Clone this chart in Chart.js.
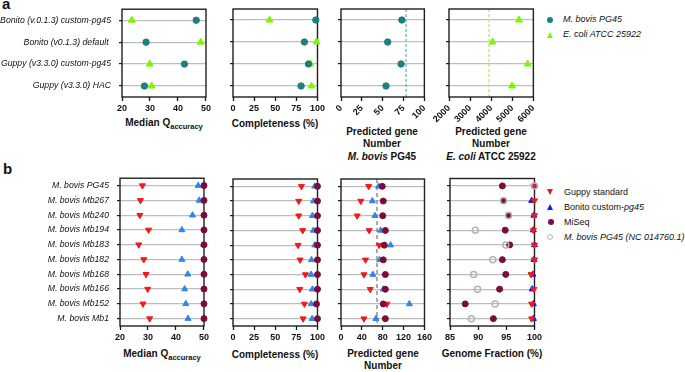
<!DOCTYPE html>
<html>
<head>
<meta charset="utf-8">
<script src="https://cdn.jsdelivr.net/npm/chart.js@4.4.0/dist/chart.umd.min.js"></script>
<style>
body { margin:0; width:685px; height:372px; background:#fff; position:relative; overflow:hidden;
       font-family:'Liberation Sans', Arial, sans-serif; color:#111; }
.t { position:absolute; font-weight:bold; font-size:10px; line-height:12.5px; text-align:center; white-space:nowrap; }
.t sub { font-size:7.5px; line-height:0; vertical-align:-3px; }
.letter { position:absolute; font-weight:bold; font-size:15px; line-height:15px; }
.leg { position:absolute; font-size:9px; line-height:11px; white-space:nowrap; }
.mk { position:absolute; }
</style>
</head>
<body>

<div class="letter" style="left:2px;top:-4px">a</div>
<div class="letter" style="left:3px;top:161px">b</div>

<!-- axis titles, panel a -->
<div class="t" style="left:104px;top:117px;width:120px">Median Q<sub>accuracy</sub></div>
<div class="t" style="left:215px;top:118px;width:120px">Completeness (%)</div>
<div class="t" style="left:322px;top:125.5px;width:120px">Predicted gene<br>Number<br><i>M. bovis</i> PG45</div>
<div class="t" style="left:431px;top:125.5px;width:120px">Predicted gene<br>Number<br><i>E. coli</i> ATCC 25922</div>

<!-- axis titles, panel b -->
<div class="t" style="left:102px;top:348px;width:120px">Median Q<sub>accuracy</sub></div>
<div class="t" style="left:215px;top:349px;width:120px">Completeness (%)</div>
<div class="t" style="left:323px;top:347.7px;width:120px">Predicted gene<br>Number</div>
<div class="t" style="left:432px;top:348px;width:120px">Genome Fraction (%)</div>

<div id="legA"></div>
<div id="legB"></div>

<script>
// ---------- panel a data ----------
const aRows = ['Bonito (v.0.1.3) custom-pg45', 'Bonito (v0.1.3) default ', 'Guppy (v3.3.0) custom-pg45', 'Guppy (v3.3.0) HAC'];
const aBovisQ = [46.5, 28.6, 42.3, 28.0];
const aColiQ = [23.5, 48.1, 29.9, 30.6];
const aBovisComp = [98.0, 84.5, 89.3, 80.6];
const aColiComp = [43.2, 98.8, 91.7, 92.9];
const aBovisGenes = [73, 56, 72, 54];
const aColiGenes = [5320, 4060, 5730, 4990];
const aBovisRef = 78;
const aColiRef = 3900;

// ---------- panel b data ----------
const bRows = ['M. bovis PG45', 'M. bovis Mb267', 'M. bovis Mb240', 'M. bovis Mb194', 'M. bovis Mb183',
               'M. bovis Mb182', 'M. bovis Mb168', 'M. bovis Mb166', 'M. bovis Mb152', 'M. bovis Mb1'];
const bGuppyQ  = [28.0, 27.3, 27.1, 30.2, 26.7, 28.5, 29.3, 29.9, 28.2, 30.6];
const bBonitoQ = [47.9, 48.3, 45.9, 42.1, 49.9, 42.1, 44.2, 43.1, 43.5, 44.3];
const bMiseqQ  = [50, 50, 50, 50, 50, 50, 50, 50, 50, 50];
const bGuppyComp  = [81.0, 77.8, 77.8, 82.5, 77.0, 79.4, 85.7, 79.0, 84.5, 83.0];
const bBonitoComp = [96.8, 95.2, 94.0, 95.2, 96.8, 92.9, 92.5, 94.0, 92.5, 93.7];
const bMiseqComp  = [100, 100, 100, 100, 100, 100, 100, 100, 98.8, 100];
const bGuppyGenes  = [53, 38, 31, 54, 73, 47, 44, 56, 88, 44];
const bBonitoGenes = [72, 60, 65, 76, 95, 74, 61, 81, 131, 67];
const bMiseqGenes  = [79, 81, 80, 85, 83, 81, 85, 85, 81, 85];
const bGeneRef = 69;
const bGuppyGF  = [99.9, 100, 100, 99.8, 100, 100, 99.4, 99.9, 99.5, 99.5];
const bBonitoGF = [100, 99.5, 99.9, 99.8, 100, 99.9, 99.7, 99.6, 99.8, 99.8];
const bMiseqGF  = [94.3, 94.5, 95.4, 94.8, 95.6, 94.3, 94.9, 93.8, 87.7, 92.7];
const bRefGF    = [100, 94.5, 95.4, 89.5, 94.9, 92.6, 89.2, 89.9, 93.0, 88.8];

// colours
const TEAL = '#1f7f80', LIME = '#7df700', RED = '#f01a1a', SKY = '#2f86e6', BLUE = '#1717f0',
      MAROON = '#7b0b3c', GREY = '#b4b4b4';

Chart.defaults.font.family = "'Liberation Sans', Arial, sans-serif";
Chart.defaults.color = '#111';

// points only, no line
function pts(data, style, color, r, order, extra) {
  return Object.assign({
    data: data.slice(), showLine: false, clip: false, order: order,
    pointStyle: style, pointRadius: r, pointBackgroundColor: color, pointBorderColor: color,
    pointBorderWidth: 1, borderColor: color, backgroundColor: color
  }, extra || {});
}
const down = {pointRotation: 180};
const ring = {pointBackgroundColor: 'rgba(0,0,0,0)', pointBorderColor: GREY, pointBorderWidth: 1.5};

// box round the plot + optional dashed reference line
function framePlugin(ref, color, dash) {
  return {
    id: 'frame',
    beforeDatasetsDraw(chart) {
      const ctx = chart.ctx, a = chart.chartArea;
      ctx.save();
      if (ref != null) {
        const x = chart.scales.x.getPixelForValue(ref);
        ctx.strokeStyle = color; ctx.lineWidth = 1.5; ctx.setLineDash(dash);
        ctx.beginPath(); ctx.moveTo(x, a.top); ctx.lineTo(x, a.bottom); ctx.stroke();
        ctx.setLineDash([]);
      }
      ctx.strokeStyle = '#1f1f1f'; ctx.lineWidth = 1.4;
      ctx.strokeRect(a.left, a.top, a.right - a.left, a.bottom - a.top);
      ctx.restore();
    }
  };
}

// makes one dot panel; canvas is moved until the plot area sits on box
function panel(box, rows, sets, ax, yw) {
  const cfg = () => ({
    type: 'line',
    data: {labels: rows, datasets: sets()},
    options: {
      indexAxis: 'y', responsive: false, maintainAspectRatio: false, animation: false, events: [],
      plugins: {legend: {display: false}, tooltip: {enabled: false}},
      scales: {
        x: {
          type: 'linear', position: 'bottom', min: ax.min, max: ax.max,
          border: {display: false},
          grid: {drawOnChartArea: false, drawTicks: true, tickLength: 4, tickColor: '#1a1a1a', tickWidth: 1.3},
          ticks: {stepSize: ax.step, autoSkip: false, minRotation: ax.rot || 0, maxRotation: ax.rot || 0,
                  padding: 2, color: '#111', font: {size: 9, weight: 'bold'},
                  callback: v => String(v)},
          afterFit: s => { s.height = ax.rot ? 30 : 16; }
        },
        y: {
          type: 'category', position: 'left', offset: true,
          border: {display: false},
          grid: {offset: false, color: '#bdbdbd', lineWidth: 1.2, drawTicks: true, tickLength: 3,
                 tickColor: '#1a1a1a', tickWidth: 1.2},
          ticks: {display: yw > 40, padding: 8, color: '#111', font: {size: 8.7, style: 'italic'}},
          afterFit: s => { s.width = yw; }
        }
      }
    },
    plugins: [framePlugin(ax.ref, ax.refColor, ax.refDash || [3, 2])]
  });

  let pad = {l: yw, t: 10, r: 10, b: 30};
  let chart;
  for (let k = 0; k < 4; k++) {
    const left = Math.round(box.x - pad.l), top = Math.round(box.y - pad.t);
    const w = Math.round(box.x + box.w + pad.r) - left, h = Math.round(box.y + box.h + pad.b) - top;
    const cv = document.createElement('canvas');
    cv.width = w; cv.height = h;
    cv.style.cssText = 'position:absolute;left:' + left + 'px;top:' + top + 'px;width:' + w + 'px;height:' + h + 'px';
    document.body.appendChild(cv);
    chart = new Chart(cv, cfg());
    const a = chart.chartArea;
    const np = {l: a.left, t: a.top, r: w - a.right, b: h - a.bottom};
    const off = Math.abs(left + a.left - box.x) + Math.abs(top + a.top - box.y) +
                Math.abs(a.right - a.left - box.w) + Math.abs(a.bottom - a.top - box.h);
    if (off < 2) break;
    chart.destroy(); cv.remove();
    pad = np;
  }
  return chart;
}

const A = [122, 233, 340.7, 449.3].map(x => ({x: x, y: 9.3, w: 84, h: 87.4}));
const B = [120.3, 233.2, 340.7, 450].map(x => ({x: x, y: 178.5, w: 84, h: 147}));

// ---- panel a ----
panel(A[0], aRows, () => [pts(aBovisQ, 'circle', TEAL, 3.2, 0), pts(aColiQ, 'triangle', LIME, 4, 1)],
      {min: 20, max: 50, step: 10}, 124);
panel(A[1], aRows, () => [pts(aBovisComp, 'circle', TEAL, 3.2, 0), pts(aColiComp, 'triangle', LIME, 4, 1)],
      {min: 0, max: 100, step: 25}, 30);
panel(A[2], aRows, () => [pts(aBovisGenes, 'circle', TEAL, 3.2, 0)],
      {min: 0, max: 100, step: 25, rot: 45, ref: aBovisRef, refColor: '#7cc4c4'}, 30);
panel(A[3], aRows, () => [pts(aColiGenes, 'triangle', LIME, 4, 1)],
      {min: 2000, max: 6000, step: 1000, rot: 45, ref: aColiRef, refColor: '#b6f27a'}, 30);

// ---- panel b ----
panel(B[0], bRows, () => [pts(bMiseqQ, 'circle', MAROON, 3, 1), pts(bGuppyQ, 'triangle', RED, 3.5, 2, down),
                          pts(bBonitoQ, 'triangle', SKY, 3.5, 3)],
      {min: 20, max: 50, step: 10}, 122);
panel(B[1], bRows, () => [pts(bMiseqComp, 'circle', MAROON, 3, 1), pts(bGuppyComp, 'triangle', RED, 3.5, 2, down),
                          pts(bBonitoComp, 'triangle', SKY, 3.5, 3)],
      {min: 0, max: 100, step: 25}, 30);
panel(B[2], bRows, () => [pts(bMiseqGenes, 'circle', MAROON, 3, 1), pts(bGuppyGenes, 'triangle', RED, 3.5, 2, down),
                          pts(bBonitoGenes, 'triangle', SKY, 3.5, 3)],
      {min: 0, max: 160, step: 40, ref: bGeneRef, refColor: '#8f8f8f', refDash: [4, 3]}, 30);
panel(B[3], bRows, () => [pts(bRefGF, 'circle', GREY, 3, 0, ring), pts(bMiseqGF, 'circle', MAROON, 3, 1),
                          pts(bGuppyGF, 'triangle', RED, 3.5, 2, down), pts(bBonitoGF, 'triangle', BLUE, 3.5, 3)],
      {min: 85, max: 100, step: 5}, 30);

// ---- legends ----
function marker(kind, color) {
  if (kind === 'circle') return 'width:6px;height:6px;border-radius:50%;background:' + color + ';margin:-3px 0 0 -3px';
  if (kind === 'ring') return 'width:4px;height:4px;border-radius:50%;border:1.3px solid ' + color + ';margin:-3.3px 0 0 -3.3px';
  if (kind === 'up') return 'width:0;height:0;border-left:3.5px solid transparent;border-right:3.5px solid transparent;border-bottom:6px solid ' + color + ';margin:-3px 0 0 -3.5px';
  return 'width:0;height:0;border-left:3.5px solid transparent;border-right:3.5px solid transparent;border-top:6px solid ' + color + ';margin:-3px 0 0 -3.5px';
}
function legend(holder, items, mx, tx, ys) {
  const el = document.getElementById(holder);
  items.forEach((it, i) => {
    const m = document.createElement('div');
    m.className = 'mk';
    m.style.cssText = 'position:absolute;left:' + mx + 'px;top:' + ys[i] + 'px;' + marker(it[0], it[1]);
    el.appendChild(m);
    const t = document.createElement('div');
    t.className = 'leg';
    t.style.left = tx + 'px'; t.style.top = (ys[i] - 5.5) + 'px';
    t.innerHTML = it[2];
    el.appendChild(t);
  });
}
legend('legA', [['circle', TEAL, '<i>M. bovis PG45</i>'], ['up', LIME, '<i>E. coli ATCC 25922</i>']],
       550, 563, [19.7, 34.7]);
legend('legB', [['down', RED, 'Guppy standard'], ['up', BLUE, 'Bonito custom-<i>pg45</i>'],
                ['circle', MAROON, 'MiSeq'], ['ring', GREY, '<i>M. bovis PG45 (NC 014760.1)</i>']],
       550.5, 564, [192, 207, 222, 237]);
</script>
</body>
</html>
